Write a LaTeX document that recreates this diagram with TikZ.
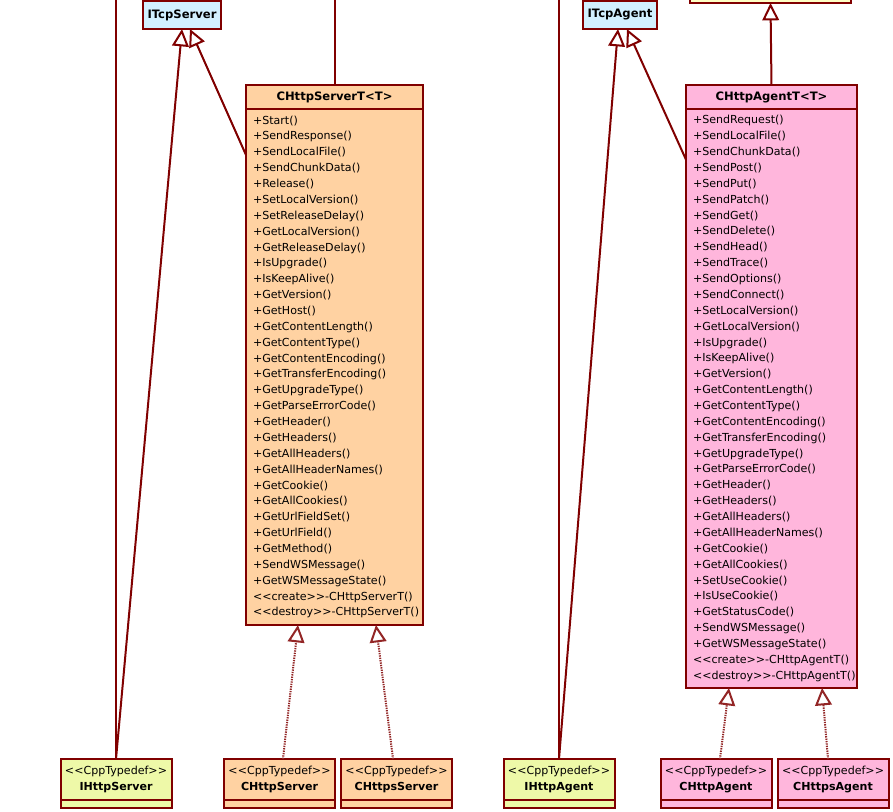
\documentclass[tikz,border=0pt]{standalone}
\usepackage{fontspec}
\setmainfont{DejaVu Sans}
\usetikzlibrary{arrows.meta,positioning}

\definecolor{umlred}{HTML}{800000}
\definecolor{srvfill}{HTML}{FFD2A2}
\definecolor{agtfill}{HTML}{FFB6DC}
\definecolor{ifcfill}{HTML}{D2F0FF}
\definecolor{tdffill}{HTML}{EEF9A8}
\definecolor{topfill}{HTML}{FFFFC4}

% member lists: no breaks at hyphens
\newcommand\memberfont{\fontsize{8.3}{11.9}\selectfont\hyphenpenalty=10000\relax\exhyphenpenalty=10000\relax}

\tikzset{
  box/.style={draw=umlred, line width=1.5pt, inner sep=0pt, outer sep=0pt,
    font=\fontsize{8.4}{11.9}\selectfont},
  title/.style={box, font=\fontsize{8.7}{11.9}\selectfont\bfseries, minimum height=18pt},
  members/.style={box, align=left, inner xsep=5.25pt, anchor=north, font=\memberfont},
  tdef/.style={box, align=center, minimum width=83.25pt, minimum height=30.75pt,
    font=\fontsize{8.3}{11.9}\selectfont},
  tdefbar/.style={box, minimum width=83.25pt, minimum height=6pt},
  link/.style={draw=umlred, line width=1.5pt},
  inherit/.style={link, -{Triangle[length=13pt, width=12.5pt, fill=white]}},
  realize/.style={inherit, draw=umlred!85, dash pattern=on 1pt off 0.8pt}
}

\begin{document}
\begin{tikzpicture}[x=0.75pt, y=-0.75pt]
\useasboundingbox (0,0) rectangle (893,811);

% interfaces on top
\node[title, fill=ifcfill, minimum width=58.5pt, minimum height=21pt] (itcpserver) at (182,15) {ITcpServer};
\node[title, fill=ifcfill, minimum width=55.5pt, minimum height=21pt] (itcpagent) at (620,15) {ITcpAgent};
\node[box, fill=topfill, minimum width=120.75pt, minimum height=19.5pt] (tophttp) at (770.5,-10) {};

% server template
\node[title, fill=srvfill, minimum width=132.75pt, anchor=north west] (srvhead) at (246,85) {CHttpServerT<T>};
\node[members, fill=srvfill, below=0pt of srvhead, text width=122.25pt, minimum height=387pt] (srvbody) {%
+Start()\\ +SendResponse()\\ +SendLocalFile()\\ +SendChunkData()\\ +Release()\\
+SetLocalVersion()\\ +SetReleaseDelay()\\ +GetLocalVersion()\\ +GetReleaseDelay()\\
+IsUpgrade()\\ +IsKeepAlive()\\ +GetVersion()\\ +GetHost()\\ +GetContentLength()\\
+GetContentType()\\ +GetContentEncoding()\\ +GetTransferEncoding()\\ +GetUpgradeType()\\
+GetParseErrorCode()\\ +GetHeader()\\ +GetHeaders()\\ +GetAllHeaders()\\
+GetAllHeaderNames()\\ +GetCookie()\\ +GetAllCookies()\\ +GetUrlFieldSet()\\
+GetUrlField()\\ +GetMethod()\\ +SendWSMessage()\\ +GetWSMessageState()\\
<{}<create>{}>-CHttpServerT()\\ <{}<destroy>{}>-CHttpServerT()};

% agent template
\node[title, fill=agtfill, minimum width=128.25pt, anchor=north west] (agthead) at (686,85) {CHttpAgentT<T>};
\node[members, fill=agtfill, below=0pt of agthead, text width=117.75pt, minimum height=434.25pt] (agtbody) {%
+SendRequest()\\ +SendLocalFile()\\ +SendChunkData()\\ +SendPost()\\ +SendPut()\\
+SendPatch()\\ +SendGet()\\ +SendDelete()\\ +SendHead()\\ +SendTrace()\\
+SendOptions()\\ +SendConnect()\\ +SetLocalVersion()\\ +GetLocalVersion()\\
+IsUpgrade()\\ +IsKeepAlive()\\ +GetVersion()\\ +GetContentLength()\\
+GetContentType()\\ +GetContentEncoding()\\ +GetTransferEncoding()\\ +GetUpgradeType()\\
+GetParseErrorCode()\\ +GetHeader()\\ +GetHeaders()\\ +GetAllHeaders()\\
+GetAllHeaderNames()\\ +GetCookie()\\ +GetAllCookies()\\ +SetUseCookie()\\
+IsUseCookie()\\ +GetStatusCode()\\ +SendWSMessage()\\ +GetWSMessageState()\\
<{}<create>{}>-CHttpAgentT()\\ <{}<destroy>{}>-CHttpAgentT()};

% typedefs
\node[tdef, fill=tdffill] (ihttpserver) at (116,779.5) {<{}<CppTypedef>{}>\\ \textbf{IHttpServer}};
\node[tdef, fill=srvfill] (httpserver) at (279.5,779.5) {<{}<CppTypedef>{}>\\ \textbf{CHttpServer}};
\node[tdef, fill=srvfill] (httpsserver) at (396.5,779.5) {<{}<CppTypedef>{}>\\ \textbf{CHttpsServer}};
\node[tdef, fill=tdffill] (ihttpagent) at (559,779.5) {<{}<CppTypedef>{}>\\ \textbf{IHttpAgent}};
\node[tdef, fill=agtfill] (httpagent) at (716,779.5) {<{}<CppTypedef>{}>\\ \textbf{CHttpAgent}};
\node[tdef, fill=agtfill] (httpsagent) at (833,779.5) {<{}<CppTypedef>{}>\\ \textbf{CHttpsAgent}};
\foreach \name/\col in {ihttpserver/tdffill, httpserver/srvfill, httpsserver/srvfill,
                   ihttpagent/tdffill, httpagent/agtfill, httpsagent/agtfill} {
  \node[tdefbar, fill=\col, below=0pt of \name] (\name-bar) {};
}

% lines leaving the picture at the top
\coordinate (ihs-top) at (116,-5);
\coordinate (srv-top) at (334.5,-5);
\coordinate (iha-top) at (559,-5);
\draw[link] (ihs-top) -- (ihttpserver.north);
\draw[link] (srv-top) -- (srvhead.north);
\draw[link] (iha-top) -- (ihttpagent.north);

% generalizations
\draw[inherit] (ihttpserver.north) -- (itcpserver.south);
\draw[inherit] ([yshift=-34.5pt]srvbody.north west) -- ([xshift=6pt]itcpserver.south);
\draw[inherit] (ihttpagent.north) -- ([xshift=-1.5pt]itcpagent.south);
\draw[inherit] ([yshift=-38pt]agtbody.north west) -- ([xshift=5.25pt]itcpagent.south);
\draw[inherit] (agthead.north) -- (tophttp.south);

% typedefs of the templates
\draw[realize] ([xshift=2.6pt]httpserver.north) -- ([xshift=-27.4pt]srvbody.south);
\draw[realize] ([xshift=-2.6pt]httpsserver.north) -- ([xshift=31.1pt]srvbody.south);
\draw[realize] ([xshift=3pt]httpagent.north) -- ([xshift=-31.9pt]agtbody.south);
\draw[realize] ([xshift=-3.75pt]httpsagent.north) -- ([xshift=37.9pt]agtbody.south);

\end{tikzpicture}
\end{document}
